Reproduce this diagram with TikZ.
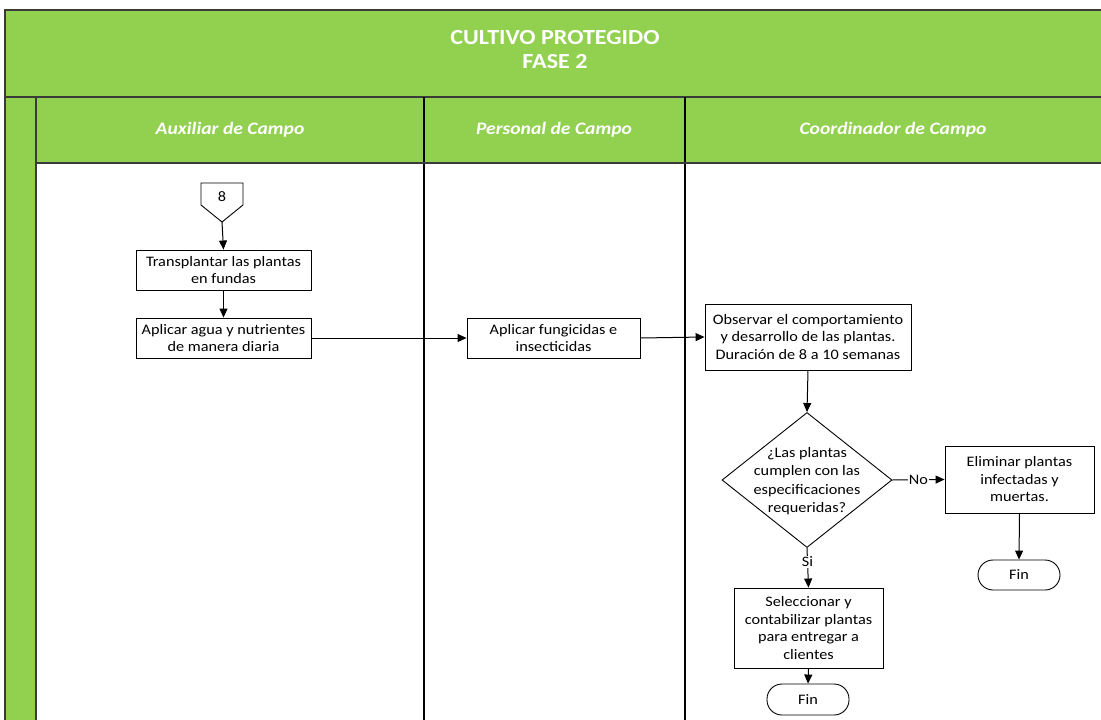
\documentclass[tikz,border=0pt]{standalone}
\usepackage{fontspec}
\setmainfont[FakeStretch=1.12]{Carlito}
\usetikzlibrary{shapes.geometric,arrows.meta}
\definecolor{lanegreen}{HTML}{92D050}
\definecolor{framegray}{HTML}{3A3A3A}
\tikzset{
  proc/.style={draw, line width=0.9pt, fill=white, align=center, inner sep=1pt, font=\fontsize{14.5}{17.5}\selectfont},
  term/.style={draw, line width=0.9pt, fill=white, rounded corners=15pt, font=\fontsize{14.5}{17.5}\selectfont},
  flow/.style={line width=1pt, -{Triangle[length=9pt,width=8pt]}},
  lbl/.style={fill=white, inner sep=1pt, font=\fontsize{14.5}{17.5}\selectfont},
  hdr/.style={text=white, font=\bfseries\fontsize{21.5}{24}\selectfont, align=center},
  lanehdr/.style={text=white, font=\bfseries\itshape\fontsize{17.5}{20}\selectfont},
  frame/.style={draw=framegray, line width=2.5pt},
  lanesep/.style={draw=black, line width=1.2pt}
}
\begin{document}
\begin{tikzpicture}[x=1pt,y=-1pt]
\useasboundingbox (0,0) rectangle (1101,720);
\begin{scope}
\clip (0,0) rectangle (1101,720);
% header
\path[fill=lanegreen, frame] (5,10) rectangle (1115,97);
\node[hdr] (title) at (555,50) {CULTIVO PROTEGIDO\\FASE 2};
% left strip
\path[fill=lanegreen, frame] (5,97) rectangle (36,730);
% lane header row
\path[fill=lanegreen, frame] (36,97) rectangle (1115,163);
\node[lanehdr] (h1) at (230,130) {Auxiliar de Campo};
\node[lanehdr] (h2) at (554,130) {Personal de Campo};
\node[lanehdr] (h3) at (893,130) {Coordinador de Campo};
% lane separators
\draw[lanesep] (424,97) -- (424,730);
\draw[lanesep] (685,97) -- (685,730);
\draw[draw=framegray, line width=1.5pt] (36,163) -- (1115,163);
\end{scope}

% off-page connector
\draw[line width=0.9pt, fill=white] (201,183) -- (243,183) -- (243,205) -- (222,222) -- (201,205) -- cycle;
\node[font=\fontsize{14.5}{17.5}\selectfont] (c8) at (222,197) {8};
\coordinate (c8b) at (222,222);

\node[proc, minimum width=175pt, minimum height=40pt] (t1) at (223.5,270) {Transplantar las plantas\\en fundas};
\node[proc, minimum width=175pt, minimum height=40pt] (t2) at (223.5,338) {Aplicar agua y nutrientes\\de manera diaria};
\node[proc, minimum width=173pt, minimum height=40pt] (t3) at (553.5,338) {Aplicar fungicidas e\\insecticidas};
\node[proc, minimum width=206pt, minimum height=66pt] (t4) at (808,337) {Observar el comportamiento\\y desarrollo de las plantas.\\Duraci\'on de 8 a 10 semanas};
\node[diamond, draw, line width=0.9pt, fill=white, minimum width=170pt, minimum height=135pt, inner sep=0pt] (d1) at (807,480) {};
\node[align=center, font=\fontsize{14.5}{18.5}\selectfont] (d1t) at (807,481) {¿Las plantas\\cumplen con las\\especificaciones\\requeridas?};
\node[proc, minimum width=149pt, minimum height=67pt] (t5) at (1019.5,479.5) {Eliminar plantas\\infectadas y\\muertas.};
\node[term, minimum width=82pt, minimum height=30pt] (f1) at (1019,575) {Fin};
\node[proc, minimum width=149pt, minimum height=80pt] (t6) at (808.5,628) {Seleccionar y\\contabilizar plantas\\para entregar a\\clientes};
\node[term, minimum width=82pt, minimum height=31pt] (f2) at (808,699.5) {Fin};

\draw[flow] (c8b) -- (t1.north);
\draw[flow] (t1.south) -- (t2.north);
\draw[flow] (t2.east) -- (t3.west);
\draw[flow] (t3.east) -- (t4.west);
\draw[flow] (t4.south) -- (d1.north);
\draw[flow] (d1.east) -- node[lbl] (no) {No} (t5.west);
\draw[flow] (d1.south) -- node[lbl, pos=0.35] (si) {Si} (t6.north);
\draw[flow] (t5.south) -- (f1.north);
\draw[flow] (t6.south) -- (f2.north);
\end{tikzpicture}
\end{document}
